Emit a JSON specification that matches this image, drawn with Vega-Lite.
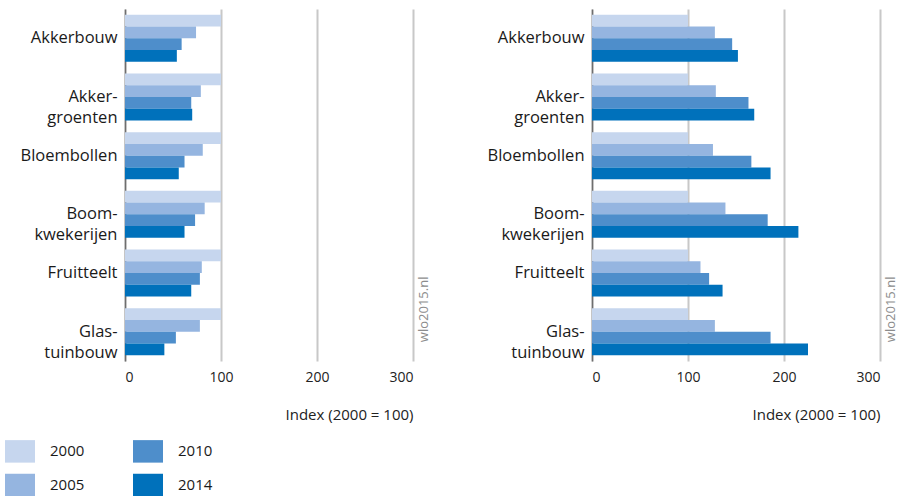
{
  "$schema": "https://vega.github.io/schema/vega-lite/v6.json",
  "padding": {"left": 5, "top": 9, "right": 0, "bottom": 0},
  "background": "white",
  "config": {
    "view": {"stroke": null},
    "font": "Open Sans",
    "axisY": {
      "title": null, "domain": true, "domainColor": "#6e6e6e", "domainWidth": 1.5,
      "ticks": false, "grid": false,
      "labelFont": "Open Sans", "labelFontSize": 16.5, "labelColor": "#1a1a1a",
      "labelPadding": 8, "labelLineHeight": 21
    },
    "axisX": {
      "grid": true, "gridColor": "#c8c8c8", "gridWidth": 2, "domain": false, "ticks": false,
      "labelFont": "Open Sans", "labelFontSize": 14, "labelColor": "#222222",
      "labelPadding": 9, "titleFont": "Open Sans", "titleFontSize": 15,
      "titleFontWeight": "normal", "titleColor": "#222222", "titleAnchor": "end", "titlePadding": 23
    },
    "legend": {
      "orient": "none", "legendX": -120, "legendY": 427, "columns": 2, "title": null,
      "symbolType": "M-1,-0.75H1V0.75H-1Z", "symbolSize": 900, "symbolStrokeWidth": 0, "symbolOpacity": 1,
      "labelOffset": 15, "rowPadding": 7, "columnPadding": 48,
      "labelFont": "Open Sans", "labelFontSize": 15, "labelColor": "#1a1a1a"
    }
  },
  "datasets": {
    "bars": [
      {"panel": "A", "sector": "Akkerbouw", "year": "2000", "value": 100},
      {"panel": "A", "sector": "Akkerbouw", "year": "2005", "value": 74},
      {"panel": "A", "sector": "Akkerbouw", "year": "2010", "value": 59},
      {"panel": "A", "sector": "Akkerbouw", "year": "2014", "value": 54},
      {"panel": "A", "sector": "Akkergroenten", "year": "2000", "value": 100},
      {"panel": "A", "sector": "Akkergroenten", "year": "2005", "value": 79},
      {"panel": "A", "sector": "Akkergroenten", "year": "2010", "value": 69},
      {"panel": "A", "sector": "Akkergroenten", "year": "2014", "value": 70},
      {"panel": "A", "sector": "Bloembollen", "year": "2000", "value": 100},
      {"panel": "A", "sector": "Bloembollen", "year": "2005", "value": 81},
      {"panel": "A", "sector": "Bloembollen", "year": "2010", "value": 62},
      {"panel": "A", "sector": "Bloembollen", "year": "2014", "value": 56},
      {"panel": "A", "sector": "Boomkwekerijen", "year": "2000", "value": 100},
      {"panel": "A", "sector": "Boomkwekerijen", "year": "2005", "value": 83},
      {"panel": "A", "sector": "Boomkwekerijen", "year": "2010", "value": 73},
      {"panel": "A", "sector": "Boomkwekerijen", "year": "2014", "value": 62},
      {"panel": "A", "sector": "Fruitteelt", "year": "2000", "value": 100},
      {"panel": "A", "sector": "Fruitteelt", "year": "2005", "value": 80},
      {"panel": "A", "sector": "Fruitteelt", "year": "2010", "value": 78},
      {"panel": "A", "sector": "Fruitteelt", "year": "2014", "value": 69},
      {"panel": "A", "sector": "Glastuinbouw", "year": "2000", "value": 100},
      {"panel": "A", "sector": "Glastuinbouw", "year": "2005", "value": 78},
      {"panel": "A", "sector": "Glastuinbouw", "year": "2010", "value": 53},
      {"panel": "A", "sector": "Glastuinbouw", "year": "2014", "value": 41},
      {"panel": "B", "sector": "Akkerbouw", "year": "2000", "value": 100},
      {"panel": "B", "sector": "Akkerbouw", "year": "2005", "value": 128},
      {"panel": "B", "sector": "Akkerbouw", "year": "2010", "value": 146},
      {"panel": "B", "sector": "Akkerbouw", "year": "2014", "value": 152},
      {"panel": "B", "sector": "Akkergroenten", "year": "2000", "value": 100},
      {"panel": "B", "sector": "Akkergroenten", "year": "2005", "value": 129},
      {"panel": "B", "sector": "Akkergroenten", "year": "2010", "value": 163},
      {"panel": "B", "sector": "Akkergroenten", "year": "2014", "value": 169},
      {"panel": "B", "sector": "Bloembollen", "year": "2000", "value": 100},
      {"panel": "B", "sector": "Bloembollen", "year": "2005", "value": 126},
      {"panel": "B", "sector": "Bloembollen", "year": "2010", "value": 166},
      {"panel": "B", "sector": "Bloembollen", "year": "2014", "value": 186},
      {"panel": "B", "sector": "Boomkwekerijen", "year": "2000", "value": 100},
      {"panel": "B", "sector": "Boomkwekerijen", "year": "2005", "value": 139},
      {"panel": "B", "sector": "Boomkwekerijen", "year": "2010", "value": 183},
      {"panel": "B", "sector": "Boomkwekerijen", "year": "2014", "value": 215},
      {"panel": "B", "sector": "Fruitteelt", "year": "2000", "value": 100},
      {"panel": "B", "sector": "Fruitteelt", "year": "2005", "value": 113},
      {"panel": "B", "sector": "Fruitteelt", "year": "2010", "value": 122},
      {"panel": "B", "sector": "Fruitteelt", "year": "2014", "value": 136},
      {"panel": "B", "sector": "Glastuinbouw", "year": "2000", "value": 100},
      {"panel": "B", "sector": "Glastuinbouw", "year": "2005", "value": 128},
      {"panel": "B", "sector": "Glastuinbouw", "year": "2010", "value": 186},
      {"panel": "B", "sector": "Glastuinbouw", "year": "2014", "value": 225}
    ],
    "mark": [{"src": "wlo2015.nl"}]
  },
  "spacing": 55,
  "resolve": {"scale": {"color": "shared"}},
  "hconcat": [
    {
      "width": 288, "height": 352,
      "layer": [
        {
          "data": {"name": "bars"},
          "transform": [{"filter": "datum.panel == 'A'"}],
          "mark": {"type": "bar"},
          "encoding": {
            "y": {"field": "sector", "type": "nominal",
              "sort": ["Akkerbouw", "Akkergroenten", "Bloembollen", "Boomkwekerijen", "Fruitteelt", "Glastuinbouw"],
              "scale": {"paddingInner": 0.2, "paddingOuter": 0.1},
              "axis": {"labelExpr": "datum.value == 'Akkergroenten' ? ['Akker-', 'groenten'] : datum.value == 'Boomkwekerijen' ? ['Boom-', 'kwekerijen'] : datum.value == 'Glastuinbouw' ? ['Glas-', 'tuinbouw'] : datum.value"}},
            "yOffset": {"field": "year", "type": "nominal", "sort": ["2000", "2005", "2010", "2014"], "scale": {"paddingInner": 0, "paddingOuter": 0}},
            "x": {"field": "value", "type": "quantitative", "scale": {"domain": [0, 300]},
              "axis": {"values": [0, 100, 200, 300], "title": "Index (2000 = 100)"}},
            "color": {"field": "year", "type": "nominal",
              "scale": {"domain": ["2000", "2005", "2010", "2014"], "range": ["#c6d6ee", "#95b5e0", "#4e8ecb", "#0071bb"]}}
          }
        },
        {
          "data": {"name": "mark"},
          "mark": {"type": "text", "angle": 270, "align": "left", "baseline": "top", "dy": 5, "dx": 13, "font": "Open Sans", "fontSize": 13, "color": "#8c8c8c"},
          "encoding": {
            "x": {"datum": 300},
            "y": {"datum": "Glastuinbouw", "bandPosition": 1},
            "text": {"field": "src"}
          }
        }
      ]
    },
    {
      "width": 288, "height": 352,
      "layer": [
        {
          "data": {"name": "bars"},
          "transform": [{"filter": "datum.panel == 'B'"}],
          "mark": {"type": "bar"},
          "encoding": {
            "y": {"field": "sector", "type": "nominal",
              "sort": ["Akkerbouw", "Akkergroenten", "Bloembollen", "Boomkwekerijen", "Fruitteelt", "Glastuinbouw"],
              "scale": {"paddingInner": 0.2, "paddingOuter": 0.1},
              "axis": {"labelExpr": "datum.value == 'Akkergroenten' ? ['Akker-', 'groenten'] : datum.value == 'Boomkwekerijen' ? ['Boom-', 'kwekerijen'] : datum.value == 'Glastuinbouw' ? ['Glas-', 'tuinbouw'] : datum.value"}},
            "yOffset": {"field": "year", "type": "nominal", "sort": ["2000", "2005", "2010", "2014"], "scale": {"paddingInner": 0, "paddingOuter": 0}},
            "x": {"field": "value", "type": "quantitative", "scale": {"domain": [0, 300]},
              "axis": {"values": [0, 100, 200, 300], "title": "Index (2000 = 100)"}},
            "color": {"field": "year", "type": "nominal",
              "scale": {"domain": ["2000", "2005", "2010", "2014"], "range": ["#c6d6ee", "#95b5e0", "#4e8ecb", "#0071bb"]}}
          }
        },
        {
          "data": {"name": "mark"},
          "mark": {"type": "text", "angle": 270, "align": "left", "baseline": "top", "dy": 5, "dx": 13, "font": "Open Sans", "fontSize": 13, "color": "#8c8c8c"},
          "encoding": {
            "x": {"datum": 300},
            "y": {"datum": "Glastuinbouw", "bandPosition": 1},
            "text": {"field": "src"}
          }
        }
      ]
    }
  ]
}
